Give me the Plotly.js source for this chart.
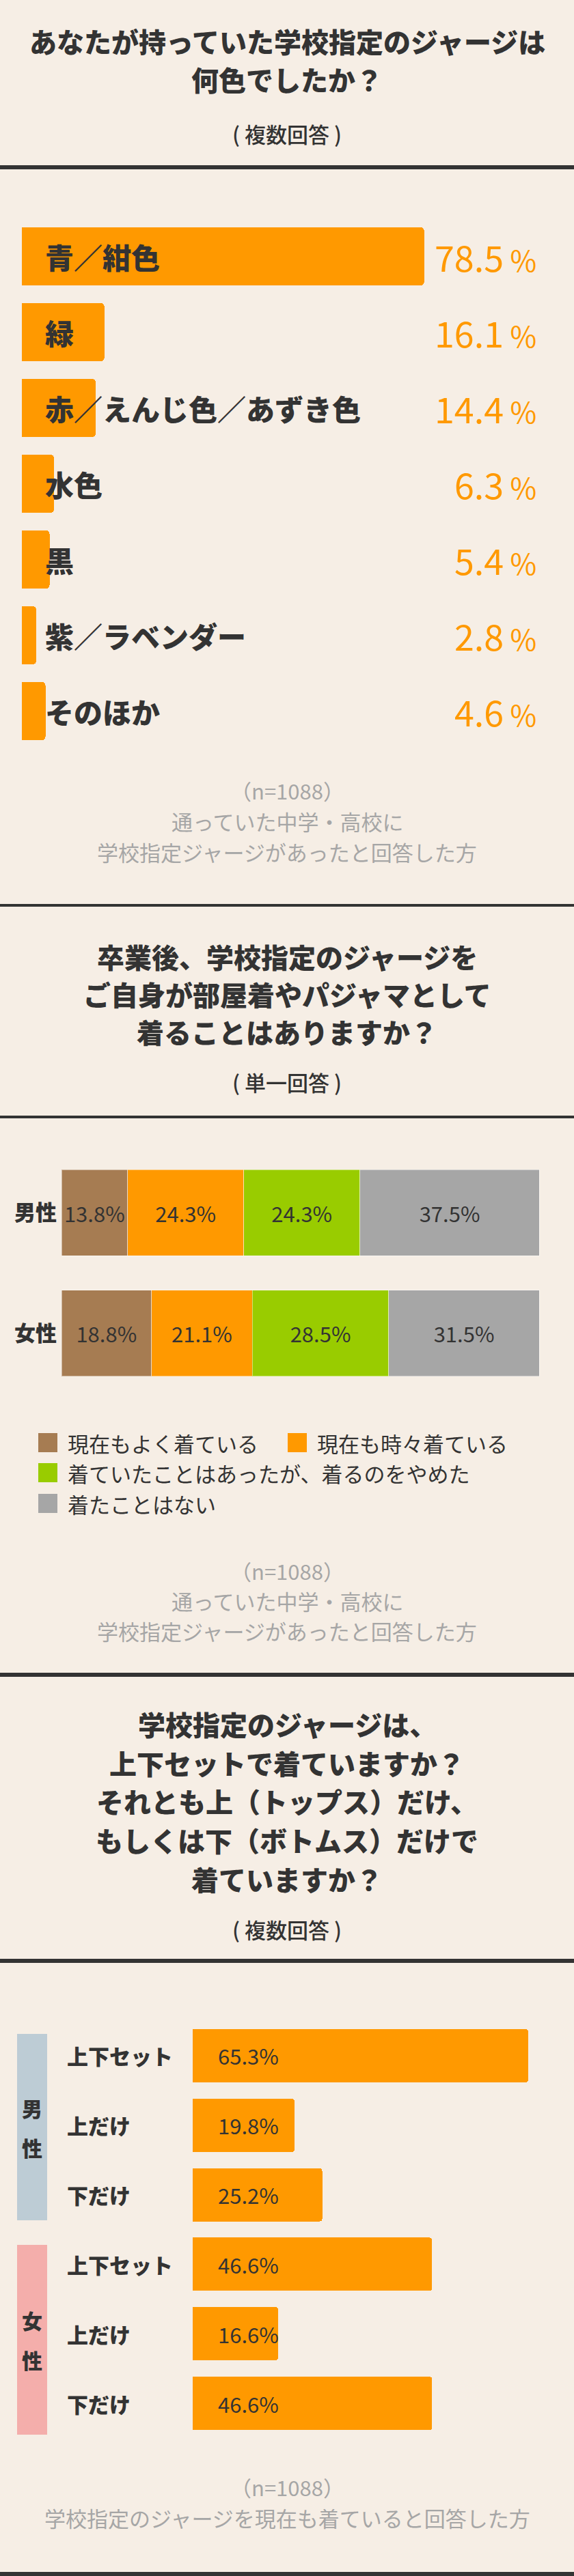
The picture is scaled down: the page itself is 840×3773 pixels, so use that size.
<!DOCTYPE html>
<html>
<head>
<meta charset="utf-8">
<script src="https://cdn.plot.ly/plotly-3.0.1.min.js"></script>
<style>
html,body{margin:0;padding:0;background:#F6EEE5;}
#chart{width:840px;height:3773px;}
</style>
</head>
<body>
<div id="chart"></div>
<script>
// ---------- DATA ----------
// Q1: jersey colour (multiple answers)
const colorCats = ['青／紺色','緑','赤／えんじ色／あずき色','水色','黒','紫／ラベンダー','そのほか'];
const colorVals = [78.5, 16.1, 14.4, 6.3, 5.4, 2.8, 4.6];

// Q2: wearing after graduation (single answer)
const wearGroups = ['男性','女性'];
const wearSeries = ['現在もよく着ている','現在も時々着ている','着ていたことはあったが、着るのをやめた','着たことはない'];
const wearMale   = [13.8, 24.3, 24.3, 37.5];
const wearFemale = [18.8, 21.1, 28.5, 31.5];

// Q3: how it is worn (multiple answers)
const styleGroups = ['男性','女性'];
const styleItems  = ['上下セット','上だけ','下だけ'];
const styleMale   = [65.3, 19.8, 25.2];
const styleFemale = [46.6, 16.6, 46.6];

// ---------- TEXTS ----------
const title1 = ['あなたが持っていた学校指定のジャージは','何色でしたか？'];
const sub1 = '( 複数回答 )';
const note1 = ['（n=1088）','通っていた中学・高校に','学校指定ジャージがあったと回答した方'];
const title2 = ['卒業後、学校指定のジャージを','ご自身が部屋着やパジャマとして','着ることはありますか？'];
const sub2 = '( 単一回答 )';
const note2 = ['（n=1088）','通っていた中学・高校に','学校指定ジャージがあったと回答した方'];
const title3 = ['学校指定のジャージは、','上下セットで着ていますか？','それとも上（トップス）だけ、','もしくは下（ボトムス）だけで','着ていますか？'];
const sub3 = '( 複数回答 )';
const note3 = ['（n=1088）','学校指定のジャージを現在も着ていると回答した方'];

// ---------- STYLE ----------
const W = 840, H = 3773;
const BG = '#F6EEE5';
const DARK = '#333333';
const ORANGE = '#FF9900';
const GREY_NOTE = '#A6A6A6';
const FONT = '"Noto Sans CJK JP", "Noto Sans", sans-serif';
const wearColors = ['#A67C52', '#FF9900', '#99CC00', '#A6A6A6'];
const groupColors = ['#BDCCD5', '#F4AEAB'];

const px = x => x / W;
const py = y => 1 - y / H;

const annotations = [];
const shapes = [];

function txt(text, x, y, o) {
  o = o || {};
  annotations.push({
    text: text, x: x, y: y,
    xref: o.xref || 'paper', yref: o.yref || 'paper',
    xanchor: o.xanchor || 'center', yanchor: 'middle',
    showarrow: false, align: o.align || 'center',
    font: {family: FONT, size: o.size || 31, color: o.color || DARK, weight: o.weight || 400}
  });
}
function hline(y, w) {
  shapes.push({type: 'line', xref: 'paper', yref: 'paper', x0: 0, x1: 1, y0: py(y), y1: py(y),
    line: {color: DARK, width: w}});
}

// ---------- TITLES / NOTES / SEPARATORS ----------
title1.forEach((t, i) => txt(t, 0.5, py([60, 116][i]), {size: 40, weight: 900}));
txt(sub1, 0.5, py(195), {size: 31, weight: 500});
note1.forEach((t, i) => txt(t, 0.5, py([1157, 1202, 1247][i]), {size: 31, color: GREY_NOTE}));

title2.forEach((t, i) => txt(t, 0.5, py([1401, 1456, 1511][i]), {size: 40, weight: 900}));
txt(sub2, 0.5, py(1585), {size: 31, weight: 500});
note2.forEach((t, i) => txt(t, 0.5, py([2300, 2344, 2388][i]), {size: 31, color: GREY_NOTE}));

title3.forEach((t, i) => txt(t, 0.5, py([2525, 2582, 2638, 2695, 2752][i]), {size: 40, weight: 900}));
txt(sub3, 0.5, py(2825), {size: 31, weight: 500});
note3.forEach((t, i) => txt(t, 0.5, py([3642, 3687][i]), {size: 31, color: GREY_NOTE}));

[[245, 6], [1326, 4], [1636, 4], [2453, 6], [2872, 6], [3770, 6]].forEach(s => hline(s[0], s[1]));

// ---------- CHART 1 ----------
const S1 = 7.5;      // px per percent
const base1 = 32;    // px where bars start
const traces = [];
traces.push({
  type: 'bar', orientation: 'h', x: colorVals, y: colorCats,
  xaxis: 'x', yaxis: 'y', width: 0.766,
  marker: {color: ORANGE, cornerradius: 5},
  hoverinfo: 'skip', showlegend: false
});
colorCats.forEach((c, i) => {
  txt(c, px(64), c, {yref: 'y', xanchor: 'left', size: 42, weight: 900});
  txt(colorVals[i].toFixed(1) + '<span style="font-size:42px"> %</span>', px(787), c,
      {yref: 'y', xanchor: 'right', size: 52, color: ORANGE, weight: 400});
});

// ---------- CHART 2 ----------
wearSeries.forEach((name, i) => {
  const vals = [wearMale[i], wearFemale[i]];
  traces.push({
    type: 'bar', orientation: 'h', name: name,
    x: vals, y: wearGroups, xaxis: 'x2', yaxis: 'y2', width: 0.716,
    text: vals.map(v => v.toFixed(1) + '%'),
    textposition: 'inside', insidetextanchor: 'middle',
    textfont: {family: FONT, size: 31, color: DARK},
    marker: {color: wearColors[i], line: {color: 'rgba(255,255,255,0.45)', width: 1}},
    hoverinfo: 'skip', showlegend: false
  });
});
// manual legend
const legendPos = [[56, 2113], [421, 2113], [56, 2157], [56, 2202]];
wearSeries.forEach((name, i) => {
  const p = legendPos[i];
  shapes.push({type: 'rect', xref: 'paper', yref: 'paper',
    x0: px(p[0]), x1: px(p[0] + 28), y0: py(p[1] + 14), y1: py(p[1] - 14),
    fillcolor: wearColors[i], line: {width: 0}});
  txt(name, px(p[0] + 41), py(p[1]), {xanchor: 'left', size: 31});
});

// ---------- CHART 3 ----------
const S3 = 7.52;
const base3 = 282;
const keys3 = [], vals3 = [], items3 = [];
styleGroups.forEach((g, gi) => {
  const vals = gi === 0 ? styleMale : styleFemale;
  styleItems.forEach((it, ii) => {
    keys3.push(g + '｜' + it);
    vals3.push(vals[ii]);
    items3.push(it);
  });
});
traces.push({
  type: 'bar', orientation: 'h', x: vals3, y: keys3,
  xaxis: 'x3', yaxis: 'y3', width: 0.766,
  marker: {color: ORANGE, cornerradius: 4},
  hoverinfo: 'skip', showlegend: false
});
keys3.forEach((k, i) => {
  txt(items3[i], px(96), k, {yref: 'y3', xanchor: 'left', size: 31, weight: 900});
  txt(vals3[i].toFixed(1) + '%', (410 - base3) / S3, k, {xref: 'x3', yref: 'y3', xanchor: 'right', size: 31});
});
// group boxes with vertical labels
const groupBoxes = [[2979, 3252], [3288, 3566]];
styleGroups.forEach((g, gi) => {
  const b = groupBoxes[gi];
  shapes.push({type: 'rect', xref: 'paper', yref: 'paper', layer: 'below',
    x0: px(25), x1: px(69), y0: py(b[1]), y1: py(b[0]),
    fillcolor: groupColors[gi], line: {width: 0}});
  const mid = (b[0] + b[1]) / 2;
  g.split('').forEach((ch, ci) => {
    txt(ch, px(47), py(mid + (ci === 0 ? -29 : 29)), {size: 30, weight: 900});
  });
});

// ---------- LAYOUT ----------
const hid = {visible: false, fixedrange: true};
const layout = {
  width: W, height: H,
  margin: {l: 0, r: 0, t: 0, b: 0},
  paper_bgcolor: BG, plot_bgcolor: 'rgba(0,0,0,0)',
  barmode: 'stack', showlegend: false, hovermode: false,
  uniformtext: {mode: 'show', minsize: 31},
  xaxis: Object.assign({}, hid, {domain: [0, 1], range: [-base1 / S1, (W - base1) / S1], anchor: 'y'}),
  yaxis: Object.assign({}, hid, {domain: [py(1097), py(320)], type: 'category',
    categoryorder: 'array', categoryarray: colorCats, range: [colorCats.length - 0.5, -0.5], anchor: 'x'}),
  xaxis2: Object.assign({}, hid, {domain: [px(90), px(790)], range: [0, 100], anchor: 'y2'}),
  yaxis2: {domain: [py(2041), py(1688)], type: 'category', categoryorder: 'array',
    categoryarray: wearGroups, range: [wearGroups.length - 0.5, -0.5], anchor: 'x2',
    showgrid: false, zeroline: false, showline: false, ticks: '', ticklabelstandoff: 6,
    tickfont: {family: FONT, size: 31, color: DARK, weight: 900}, fixedrange: true},
  xaxis3: Object.assign({}, hid, {domain: [0, 1], range: [-base3 / S3, (W - base3) / S3], anchor: 'y3'}),
  yaxis3: Object.assign({}, hid, {domain: [py(3571), py(2960)], type: 'category',
    categoryorder: 'array', categoryarray: keys3, range: [keys3.length - 0.5, -0.5], anchor: 'x3'}),
  annotations: annotations,
  shapes: shapes
};

Plotly.newPlot('chart', traces, layout, {staticPlot: true, displayModeBar: false});
</script>
</body>
</html>
